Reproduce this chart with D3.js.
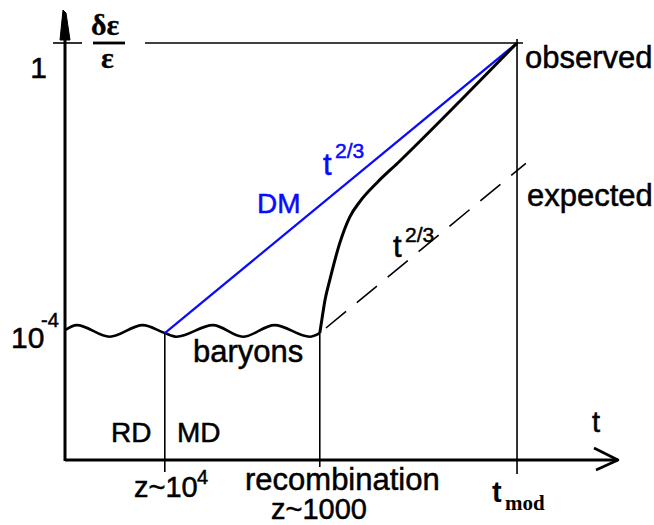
<!DOCTYPE html>
<html>
<head>
<meta charset="utf-8">
<script src="https://cdn.jsdelivr.net/npm/d3@7"></script>
<style>
  html, body { margin: 0; padding: 0; background: #fff; }
  svg { display: block; }
  text { font-family: "Liberation Sans", Arial, sans-serif; fill: #000; stroke: #000; stroke-width: 0.5px; }
</style>
</head>
<body>
<svg id="chart" width="654" height="525"></svg>
<script>
// Schematic growth of density perturbations δε/ε versus log t.
// x: log10 t relative to matter-radiation equality; y: log10(δε/ε).
const epochs = [
  { key: "eq",  x: 0.0 },
  { key: "rec", x: 2.64 },
  { key: "mod", x: 6.0 }
];
const yLevels = { start: -4, today: 0 };

// dark matter grows as t^{2/3} from equality onwards
const dmLine = [[0.0, -4.0], [6.0, 0.0]];

// baryons oscillate until recombination
const baryonWave = [
  [-1.70, -3.96], [-1.50, -3.89], [-0.94, -4.05], [-0.375, -3.89],
  [0.00, -4.00], [0.20, -4.05], [0.82, -3.89], [1.33, -4.05],
  [1.87, -3.89], [2.47, -4.05], [2.64, -4.00]
];

// observed baryon growth after recombination (falls into DM wells)
const observedCurve = [
  [2.64, -4.00], [2.68, -3.79], [2.73, -3.54], [2.81, -3.27],
  [2.98, -2.76], [3.15, -2.40], [3.32, -2.19], [3.61, -1.93],
  [4.00, -1.63], [5.03, -0.80], [6.00, 0.00]
];

// expected t^{2/3} growth of baryons alone after recombination
const expectedLine = [[2.64, -4.00], [6.15, -1.66]];

const W = 654, H = 525;
const svg = d3.select("#chart");
svg.append("rect").attr("width", W).attr("height", H).attr("fill", "#fff");

const x = d3.scaleLinear().domain([-1.70, 7.72]).range([65, 618]);
const y = d3.scaleLinear().domain([-5.75, 0]).range([460, 43]);

const X0 = x(-1.70), Y0 = y(-5.75);
const ep = k => x(epochs.find(e => e.key === k).x);

// ---- guide lines ----
const g = svg.append("g").attr("stroke", "#000").attr("fill", "none");
// level of δε/ε = 1
g.append("line").attr("x1", 53).attr("x2", 82)
  .attr("y1", y(yLevels.today)).attr("y2", y(yLevels.today)).attr("stroke-width", 1.6);
g.append("line").attr("x1", 145).attr("x2", ep("mod") + 6)
  .attr("y1", y(yLevels.today)).attr("y2", y(yLevels.today)).attr("stroke-width", 1.6);
// epoch markers
g.append("line").attr("x1", ep("eq")).attr("x2", ep("eq"))
  .attr("y1", y(yLevels.start)).attr("y2", Y0 + 12).attr("stroke-width", 1.6);
g.append("line").attr("x1", ep("rec")).attr("x2", ep("rec"))
  .attr("y1", y(yLevels.start)).attr("y2", Y0 + 7).attr("stroke-width", 1.6);
g.append("line").attr("x1", ep("mod")).attr("x2", ep("mod"))
  .attr("y1", y(yLevels.today) - 4).attr("y2", Y0 + 14).attr("stroke-width", 1.6);

// ---- axes ----
const ax = svg.append("g").attr("stroke", "#000").attr("fill", "none");
ax.append("line").attr("x1", X0).attr("x2", X0).attr("y1", Y0 + 1).attr("y2", 30).attr("stroke-width", 3);
ax.append("path").attr("d", `M${X0 - 2},10 L${X0 + 1},13 L${X0 + 5},40 L${X0 - 5},40 Z`)
  .attr("fill", "#000").attr("stroke-width", 1);
ax.append("line").attr("x1", X0).attr("x2", 618).attr("y1", Y0).attr("y2", Y0).attr("stroke-width", 3);
ax.append("path").attr("d", `M594,448 L618,460 L596,470`).attr("stroke-width", 2.6)
  .attr("stroke-linejoin", "round");

// ---- curves ----
const line = d3.line().x(d => x(d[0])).y(d => y(d[1]));
const smooth = d3.line().x(d => x(d[0])).y(d => y(d[1])).curve(d3.curveMonotoneX);

svg.append("path").attr("d", smooth(baryonWave))
  .attr("fill", "none").attr("stroke", "#000").attr("stroke-width", 2.6);
svg.append("path").attr("d", line(expectedLine))
  .attr("fill", "none").attr("stroke", "#000").attr("stroke-width", 1.6)
  .attr("stroke-dasharray", "26,14").attr("stroke-dashoffset", -8);
svg.append("path").attr("d", line(dmLine))
  .attr("fill", "none").attr("stroke", "#0a0aff").attr("stroke-width", 2.2);
svg.append("path").attr("d", smooth(observedCurve))
  .attr("fill", "none").attr("stroke", "#000").attr("stroke-width", 3);

// ---- labels ----
function label(txt, px, py, opts = {}) {
  const t = svg.append("text").attr("x", px).attr("y", py)
    .attr("font-size", opts.size || 30).text(txt);
  if (opts.fill) t.style("fill", opts.fill).style("stroke", opts.fill);
  if (opts.anchor) t.attr("text-anchor", opts.anchor);
  if (opts.family) t.style("font-family", opts.family);
  if (opts.weight) t.attr("font-weight", opts.weight);
  if (opts.sw != null) t.style("stroke-width", opts.sw + "px");
  return t;
}

// y-axis quantity δε/ε
label("δε", 91, 35, { size: 30, family: "'Liberation Serif', serif", weight: "bold", sw: 0.3 });
svg.append("line").attr("x1", 93).attr("x2", 125).attr("y1", 43).attr("y2", 43)
  .attr("stroke", "#000").attr("stroke-width", 2.8);
label("ε", 101, 68, { size: 30, family: "'Liberation Serif', serif", weight: "bold", sw: 0.3 });

label("1", 47, 78, { anchor: "end", size: 30 });
label("10", 11, 348, { size: 30 });
label("-4", 41, 327, { size: 20 });

label("DM", 257, 213, { fill: "#0a0aff", size: 28 });
label("t", 323, 175, { fill: "#0a0aff", size: 31 });
label("2/3", 335, 158, { fill: "#0a0aff", size: 21 });

label("t", 393, 257, { size: 31 });
label("2/3", 405, 242, { size: 21 });

label("observed", 525, 68, { size: 31 });
label("expected", 527, 206, { size: 31 });
label("baryons", 193, 362, { size: 31 });

label("RD", 111, 442, { size: 28 });
label("MD", 177, 442, { size: 28 });
label("t", 592, 432, { size: 29 });

label("z~10", 134, 497, { size: 29 });
label("4", 197, 484, { size: 20 });
label("recombination", 245, 490, { size: 31 });
label("z~1000", 271, 519, { size: 29 });
label("t", 492, 502, { size: 29, weight: "bold", sw: 0 });
label("mod", 505, 510, { size: 21, family: "'Liberation Serif', serif", weight: "bold", sw: 0 });
</script>
</body>
</html>
